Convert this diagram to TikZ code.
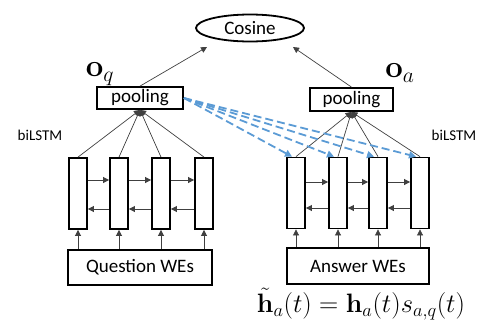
\documentclass[tikz,border=0pt]{standalone}
\usepackage[no-math]{fontspec}
\usepackage{graphicx}
\setmainfont{Carlito}
\usetikzlibrary{arrows.meta,shapes.geometric}
\definecolor{dashblue}{RGB}{91,155,213}
\tikzset{
  box/.style={draw,line width=1.8pt,inner sep=0pt,font=\fontsize{19}{21}\selectfont},
  cell/.style={draw,line width=1.8pt,minimum width=18pt,minimum height=71pt,inner sep=0pt},
  conn/.style={draw=black!75,line width=0.7pt},
  tip/.style={-{Triangle[length=6pt,width=6pt]}},
  att/.style={draw=dashblue,line width=1.8pt,dash pattern=on 8pt off 4pt,-{Triangle[length=7pt,width=7pt]}},
  bigmath/.style={inner sep=0pt,font=\fontsize{24}{26}\selectfont}
}
\begin{document}
\begin{tikzpicture}[x=1pt,y=-1pt]
    \useasboundingbox (0,0) rectangle (481,327);
    %uscita
    \node[ellipse,draw,line width=1.8pt,minimum width=108pt,minimum height=27pt,inner sep=0pt,font=\fontsize{19}{21}\selectfont] (cos) at (250,28) {Cosine};
    \coordinate (cq) at (207,47);
    \coordinate (ca) at (293,47);
    %pooling
    \node[box,minimum width=86pt,minimum height=22pt] (poolq) at (140,98) {pooling};
    \node[box,minimum width=83pt,minimum height=23pt] (poola) at (351.5,99.5) {pooling};
    \draw[conn,tip] (poolq.north) -- (cq);
    \draw[conn,tip] (poola.north) -- (ca);
    \node[bigmath] (oq) at (100,74) {\scalebox{1.25}{$\mathbf{o}_q$}};
    \node[bigmath] (oa) at (400,73) {\scalebox{1.25}{$\mathbf{o}_a$}};
    \node[font=\fontsize{15}{17}\selectfont] (bq) at (40,135) {biLSTM};
    \node[font=\fontsize{15}{17}\selectfont] (ba) at (454,135) {biLSTM};
    %celle
    \foreach \i/\x in {1/78,2/119,3/161,4/204}
        \node[cell] (q\i) at (\x,193.5) {};
    \foreach \i/\x in {1/296,2/338,3/378,4/420}
        \node[cell] (a\i) at (\x,193) {};
    \foreach \i/\j in {1/2,2/3,3/4} {
        \draw[conn,tip] ([yshift=13.5pt]q\i.east) -- ([yshift=13.5pt]q\j.west);
        \draw[conn,tip] ([yshift=-15.5pt]q\j.west) -- ([yshift=-15.5pt]q\i.east);
        \draw[conn,tip] ([yshift=11pt]a\i.east) -- ([yshift=11pt]a\j.west);
        \draw[conn,tip] ([yshift=-15pt]a\j.west) -- ([yshift=-15pt]a\i.east);
    }
    %ingressi
    \node[box,minimum width=144pt,minimum height=35pt] (qwe) at (140,267.5) {Question WEs};
    \node[box,minimum width=142pt,minimum height=36pt] (awe) at (358,266) {Answer WEs};
    \foreach \i in {1,...,4} {
        \draw[conn,tip] (q\i.south|-qwe.north) -- (q\i.south);
        \draw[conn,tip] (a\i.south|-awe.north) -- (a\i.south);
        \draw[conn,tip] (q\i.north) -- (poolq.south);
        \draw[conn,tip] (a\i.north) -- (poola.south);
    }
    %attenzione
    \foreach \i in {1,...,4}
        \draw[att] (poolq.east) -- ([xshift=-4pt]a\i.north);
    \node[bigmath] (eq) at (361,304) {\scalebox{1.07}{$\tilde{\mathbf{h}}_a(t)=\mathbf{h}_a(t)s_{a,q}(t)$}};
\end{tikzpicture}
\end{document}
